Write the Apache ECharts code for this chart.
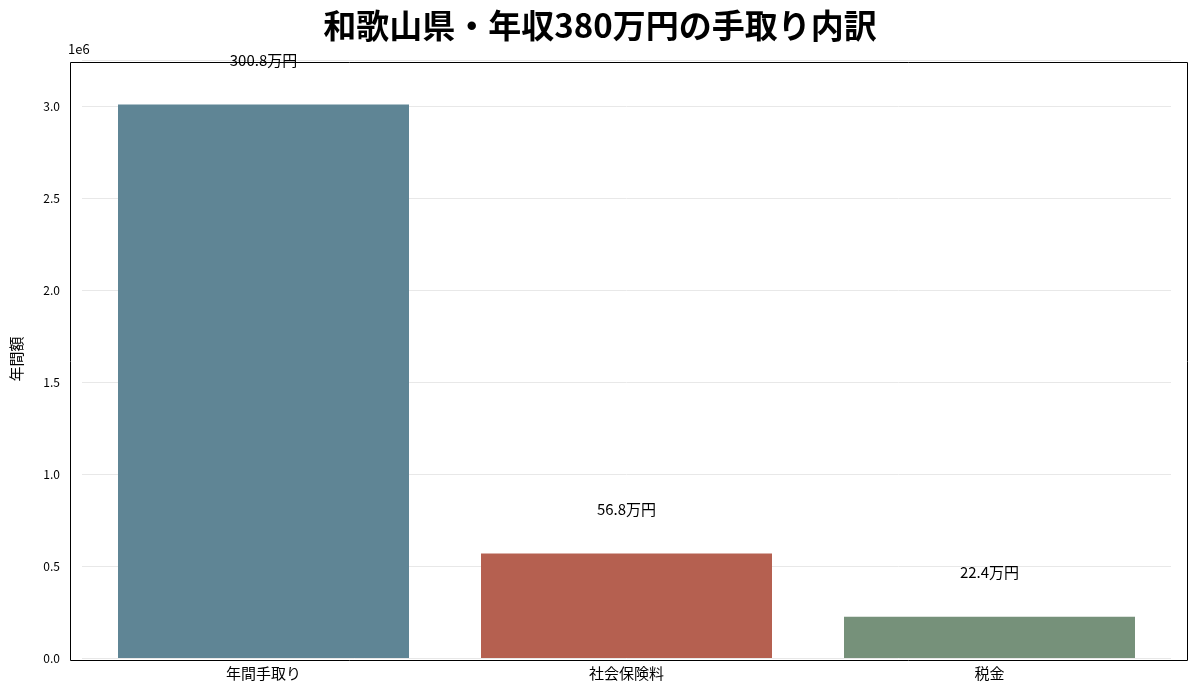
<!DOCTYPE html>
<html><head><meta charset="utf-8">
<script src="https://cdn.jsdelivr.net/npm/echarts@6/dist/echarts.min.js"></script>
<style>body{margin:0}#chart{width:1200px;height:700px}</style>
</head><body><div id="chart"></div>
<script>
var categories = ['年間手取り', '社会保険料', '税金'];
var amounts = [3008000, 568000, 224000];
var barColors = ['#5f8595', '#b56050', '#76917a'];
var labels = ['300.8万円', '56.8万円', '22.4万円'];

var font = '"Noto Sans CJK JP", "Noto Sans", sans-serif';
var myChart = echarts.init(document.getElementById('chart'));
var option = {
	title: {
		text: '和歌山県・年収380万円の手取り内訳',
		left: 'center', top: 4,
		textStyle: { fontFamily: font, fontSize: 33, fontWeight: 'bold', color: '#000' }
	},
	graphic: [
		{ type: 'text', left: 68, top: 43, style: { text: '1e6', font: '13px ' + font, fill: '#000' } },
		{ type: 'rect', left: 68, top: 60, z: 10, silent: true,
			shape: { width: 1117, height: 598 }, style: { fill: 'none', stroke: '#000', lineWidth: 1 } }
	],
	grid: { left: 82, right: 29, top: 60, bottom: 42 },
	xAxis: {
		type: 'category', data: categories,
		axisLine: { show: false },
		axisTick: { alignWithLabel: true, lineStyle: { color: '#000' } },
		axisLabel: { fontFamily: font, fontSize: 15, color: '#000' }
	},
	yAxis: {
		type: 'value', min: 0, max: 3250000, interval: 500000,
		name: '年間額', nameLocation: 'middle', nameGap: 58, nameRotate: 90,
		nameTextStyle: { fontFamily: font, fontSize: 15, color: '#000' },
		axisLine: { show: false },
		axisTick: { show: false },
		axisLabel: { fontFamily: font, fontSize: 12, color: '#000', margin: 22,
			formatter: function (v) { return v % 500000 === 0 ? (v / 1e6).toFixed(1) : ''; } },
		splitLine: { lineStyle: { color: '#e8e8e8' } }
	},
	series: [{
		type: 'bar', barWidth: 291,
		data: amounts.map(function (v, i) { return { value: v, itemStyle: { color: barColors[i] } }; }),
		label: {
			show: true, position: 'top', distance: 37,
			fontFamily: font, fontSize: 15, color: '#000',
			formatter: function (p) { return labels[p.dataIndex]; }
		}
	}]
};
myChart.setOption(option);
</script></body></html>
